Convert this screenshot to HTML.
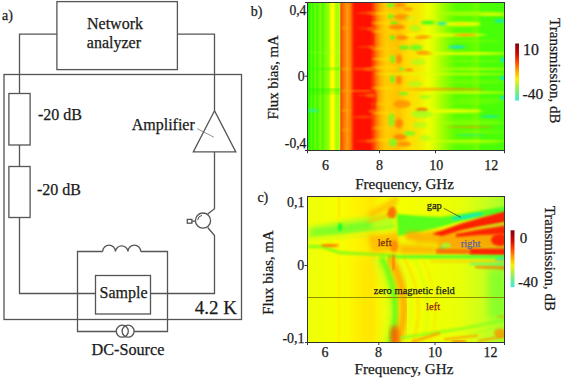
<!DOCTYPE html>
<html><head><meta charset="utf-8">
<style>
html,body{margin:0;padding:0;background:#fff;width:562px;height:379px;overflow:hidden}
svg{display:block}
text{font-family:"Liberation Serif",serif;fill:#1a1a1a;stroke:#1a1a1a;stroke-width:0.25px}
</style></head>
<body>
<svg width="562" height="379" viewBox="0 0 562 379">
<defs>
<linearGradient id="gb" x1="308" x2="504.5" y1="0" y2="0" gradientUnits="userSpaceOnUse"><stop offset="0.0000" stop-color="#20f800"/><stop offset="0.0102" stop-color="#30fa00"/><stop offset="0.0178" stop-color="#60ff00"/><stop offset="0.0254" stop-color="#30fa00"/><stop offset="0.0356" stop-color="#70ff00"/><stop offset="0.0458" stop-color="#40fa00"/><stop offset="0.0636" stop-color="#80ff00"/><stop offset="0.0738" stop-color="#50fc00"/><stop offset="0.0891" stop-color="#80ff00"/><stop offset="0.1043" stop-color="#90ff00"/><stop offset="0.1120" stop-color="#d0ff00"/><stop offset="0.1170" stop-color="#f8ff00"/><stop offset="0.1323" stop-color="#f8ff00"/><stop offset="0.1389" stop-color="#c0ff00"/><stop offset="0.1476" stop-color="#a0ff10"/><stop offset="0.1628" stop-color="#b8ff10"/><stop offset="0.1669" stop-color="#ff4000"/><stop offset="0.1730" stop-color="#ff5800"/><stop offset="0.1858" stop-color="#ff8000"/><stop offset="0.2010" stop-color="#ff9a10"/><stop offset="0.2163" stop-color="#ff7800"/><stop offset="0.2290" stop-color="#ff3000"/><stop offset="0.2392" stop-color="#ff1000"/><stop offset="0.3155" stop-color="#ff1000"/><stop offset="0.3308" stop-color="#ff3800"/><stop offset="0.3511" stop-color="#ff8000"/><stop offset="0.3715" stop-color="#ffb000"/><stop offset="0.3969" stop-color="#ffcc00"/><stop offset="0.4275" stop-color="#ffc800"/><stop offset="0.4580" stop-color="#ffc000"/><stop offset="0.4885" stop-color="#ffd400"/><stop offset="0.5191" stop-color="#ffe000"/><stop offset="0.5496" stop-color="#f8e400"/><stop offset="0.5802" stop-color="#f4f000"/><stop offset="0.6107" stop-color="#f0ff00"/><stop offset="0.6412" stop-color="#d8ff00"/><stop offset="0.6718" stop-color="#b0ff00"/><stop offset="0.7125" stop-color="#80ff00"/><stop offset="0.7532" stop-color="#58ff00"/><stop offset="0.8244" stop-color="#58ff00"/><stop offset="0.8601" stop-color="#70ff00"/><stop offset="0.8804" stop-color="#48ff08"/><stop offset="1.0000" stop-color="#48ff08"/></linearGradient><linearGradient id="gc" x1="308" x2="504.5" y1="0" y2="0" gradientUnits="userSpaceOnUse"><stop offset="0.0000" stop-color="#eeff08"/><stop offset="0.1374" stop-color="#f6ff00"/><stop offset="0.1578" stop-color="#fff600"/><stop offset="0.1679" stop-color="#f6ff00"/><stop offset="0.2392" stop-color="#fff400"/><stop offset="0.3257" stop-color="#ffe800"/><stop offset="0.3919" stop-color="#f8ff00"/><stop offset="0.6209" stop-color="#f0ff00"/><stop offset="0.7735" stop-color="#e8ff08"/><stop offset="0.8753" stop-color="#d0ff18"/><stop offset="1.0000" stop-color="#a8ff28"/></linearGradient><linearGradient id="gcbar" x1="0" x2="0" y1="0" y2="1"><stop offset="0" stop-color="#800010"/><stop offset="0.18" stop-color="#d00800"/><stop offset="0.32" stop-color="#ff4000"/><stop offset="0.47" stop-color="#ffa000"/><stop offset="0.62" stop-color="#f8f000"/><stop offset="0.74" stop-color="#b0f040"/><stop offset="0.86" stop-color="#70f080"/><stop offset="1" stop-color="#40e8e0"/></linearGradient>
<clipPath id="cb"><rect x="308" y="3" width="196.5" height="147.5"/></clipPath>
<clipPath id="cc"><rect x="308" y="197" width="196.5" height="145.5"/></clipPath>
<filter id="bl1" x="-20%" y="-50%" width="140%" height="200%"><feGaussianBlur stdDeviation="1"/></filter>
<filter id="bl2" x="-20%" y="-50%" width="140%" height="200%"><feGaussianBlur stdDeviation="2"/></filter>
<filter id="bl3" x="-20%" y="-50%" width="140%" height="200%"><feGaussianBlur stdDeviation="3"/></filter>
</defs>

<!-- ===== circuit (a) ===== -->
<g fill="none" stroke="#555" stroke-width="1.3">
<rect x="56.9" y="1.6" width="120.5" height="68"/>
<polyline points="56.9,34.1 19.5,34.1 19.5,93.5"/>
<polyline points="177.4,34.1 214.5,34.1 214.5,110.7"/>
<rect x="4" y="74.5" width="237.5" height="245"/>
<rect x="8.9" y="93.5" width="21.2" height="51.5"/>
<line x1="19.5" y1="145" x2="19.5" y2="166.5"/>
<rect x="8.9" y="166.5" width="21.2" height="51"/>
<polyline points="19.5,217.5 19.5,293.5 95.5,293.5"/>
<polygon points="214.5,110.7 193.3,151.9 235.8,151.9"/>
<polyline points="214.5,151.9 214.5,208.7 207.7,214"/>
<polyline points="207.7,227.5 214.5,235.6 214.5,293.5 150.5,293.5"/>
<circle cx="203" cy="220.6" r="7.6"/>
<rect x="187.3" y="219.4" width="4.6" height="3.8"/>
<line x1="191.9" y1="221.2" x2="195.5" y2="221.2"/>
<polyline points="102.7,251.5 77.5,251.5 77.5,331.5 116.3,331.5"/>
<polyline points="140.7,251.5 167.5,251.5 167.5,331.5 134,331.5"/>
<path d="M102.7,251.5 A6.33,6.33 0 0 1 115.4,251.5 A6.33,6.33 0 0 1 128,251.5 A6.33,6.33 0 0 1 140.7,251.5"/>
<rect x="95.5" y="275.5" width="55" height="38.5"/>
<circle cx="122.3" cy="331.2" r="6"/>
<circle cx="128.1" cy="331.2" r="6"/>
</g>
<line x1="197" y1="128.6" x2="213.8" y2="137.1" stroke="#777" stroke-width="0.8"/>
<path d="M197.6,220.1 A5.3,5.3 0 0 1 202,215.4" fill="none" stroke="#3c3c3c" stroke-width="0.9"/>

<text x="2" y="20.3" font-size="14">a)</text>
<text x="87" y="28.9" font-size="16">Network</text>
<text x="86.8" y="48.1" font-size="16">analyzer</text>
<text x="38" y="120.1" font-size="16">-20 dB</text>
<text x="37" y="194.6" font-size="16">-20 dB</text>
<text x="131.7" y="130.3" font-size="16">Amplifier</text>
<text x="99.5" y="298" font-size="16">Sample</text>
<text x="91.5" y="355.2" font-size="16.2">DC-Source</text>
<text x="194.8" y="313.6" font-size="19">4.2 K</text>

<!-- ===== plot b ===== -->
<rect x="308" y="3" width="196.5" height="147.5" fill="url(#gb)"/>
<g clip-path="url(#cb)">
<ellipse cx="385" cy="13.5" rx="14" ry="1.5" fill="#ffe000" opacity="0.75" filter="url(#bl1)"/>
<ellipse cx="385" cy="23" rx="14" ry="1.2" fill="#ffe000" opacity="0.75" filter="url(#bl1)"/>
<ellipse cx="385" cy="31.5" rx="14" ry="1.3" fill="#ffd000" opacity="0.7" filter="url(#bl1)"/>
<ellipse cx="385" cy="48.5" rx="14" ry="1.3" fill="#ffd000" opacity="0.7" filter="url(#bl1)"/>
<ellipse cx="385" cy="59" rx="14" ry="1.2" fill="#ffe000" opacity="0.7" filter="url(#bl1)"/>
<ellipse cx="385" cy="67.5" rx="14" ry="1.3" fill="#ffe000" opacity="0.7" filter="url(#bl1)"/>
<ellipse cx="385" cy="88" rx="14" ry="1.2" fill="#ffe000" opacity="0.7" filter="url(#bl1)"/>
<ellipse cx="385" cy="104" rx="14" ry="1.2" fill="#ffd000" opacity="0.7" filter="url(#bl1)"/>
<ellipse cx="385" cy="113" rx="14" ry="1.2" fill="#ffe000" opacity="0.7" filter="url(#bl1)"/>
<ellipse cx="385" cy="128" rx="14" ry="1.2" fill="#ffd000" opacity="0.7" filter="url(#bl1)"/>
<ellipse cx="385" cy="140" rx="14" ry="1.2" fill="#ffe000" opacity="0.7" filter="url(#bl1)"/>
<ellipse cx="391" cy="5" rx="4" ry="2.5" fill="#60ff20" opacity="0.8" filter="url(#bl1)"/>
<ellipse cx="400" cy="5" rx="6" ry="2.5" fill="#ff8c00" opacity="0.8" filter="url(#bl1)"/>
<ellipse cx="408" cy="9" rx="5" ry="2" fill="#ff9800" opacity="0.8" filter="url(#bl1)"/>
<ellipse cx="391" cy="16.5" rx="3" ry="2.5" fill="#60ff20" opacity="0.8" filter="url(#bl1)"/>
<ellipse cx="402" cy="17" rx="8" ry="3" fill="#ff8c00" opacity="0.8" filter="url(#bl1)"/>
<ellipse cx="394" cy="23" rx="4" ry="1.2" fill="#30ff20" opacity="0.8" filter="url(#bl1)"/>
<ellipse cx="428" cy="22.5" rx="7" ry="2" fill="#30ff20" opacity="0.9" filter="url(#bl1)"/>
<ellipse cx="397" cy="27" rx="8" ry="2.5" fill="#ff8000" opacity="0.85" filter="url(#bl1)"/>
<ellipse cx="392.5" cy="37.5" rx="2.5" ry="2.5" fill="#50ff20" opacity="0.8" filter="url(#bl1)"/>
<ellipse cx="402" cy="37.5" rx="6" ry="2.5" fill="#ff8000" opacity="0.85" filter="url(#bl1)"/>
<ellipse cx="421.5" cy="37" rx="7" ry="2" fill="#ff9800" opacity="0.8" filter="url(#bl1)"/>
<ellipse cx="404" cy="47.5" rx="5" ry="2" fill="#40ff20" opacity="0.8" filter="url(#bl1)"/>
<ellipse cx="416" cy="47.5" rx="7" ry="3" fill="#60ff20" opacity="0.8" filter="url(#bl1)"/>
<ellipse cx="423" cy="52.5" rx="7" ry="1.5" fill="#ff8000" opacity="0.8" filter="url(#bl1)"/>
<ellipse cx="392.5" cy="59" rx="2.5" ry="4" fill="#60ff20" opacity="0.8" filter="url(#bl1)"/>
<ellipse cx="399" cy="59" rx="3" ry="4.5" fill="#ff8000" opacity="0.8" filter="url(#bl1)"/>
<ellipse cx="392.5" cy="79" rx="2.5" ry="4" fill="#60ff20" opacity="0.8" filter="url(#bl1)"/>
<ellipse cx="399" cy="80" rx="3" ry="4.5" fill="#ff8000" opacity="0.8" filter="url(#bl1)"/>
<ellipse cx="401.5" cy="69" rx="3" ry="1.5" fill="#60ff20" opacity="0.8" filter="url(#bl1)"/>
<ellipse cx="409" cy="70" rx="4" ry="1.5" fill="#ff8000" opacity="0.8" filter="url(#bl1)"/>
<ellipse cx="403.5" cy="93.5" rx="5" ry="1.5" fill="#60ff20" opacity="0.8" filter="url(#bl1)"/>
<ellipse cx="415" cy="28" rx="6" ry="3" fill="#a0ff20" opacity="0.7" filter="url(#bl1)"/>
<ellipse cx="418" cy="62" rx="8" ry="3" fill="#a0ff20" opacity="0.6" filter="url(#bl1)"/>
<ellipse cx="415" cy="84" rx="8" ry="3" fill="#a0ff20" opacity="0.6" filter="url(#bl1)"/>
<ellipse cx="425" cy="97" rx="6" ry="2" fill="#80ff20" opacity="0.6" filter="url(#bl1)"/>
<ellipse cx="420" cy="125" rx="8" ry="3" fill="#a0ff20" opacity="0.6" filter="url(#bl1)"/>
<ellipse cx="425" cy="138" rx="6" ry="3" fill="#a0ff20" opacity="0.6" filter="url(#bl1)"/>
<ellipse cx="410" cy="18" rx="5" ry="2" fill="#c0ff20" opacity="0.6" filter="url(#bl1)"/>
<ellipse cx="402" cy="104" rx="9" ry="4" fill="#ff9000" opacity="0.8" filter="url(#bl1)"/>
<ellipse cx="422" cy="110" rx="6" ry="2" fill="#ff5000" opacity="0.9" filter="url(#bl1)"/>
<ellipse cx="422" cy="114" rx="11" ry="4" fill="#a0ff20" opacity="0.8" filter="url(#bl1)"/>
<ellipse cx="391.5" cy="120" rx="3" ry="7" fill="#70ff20" opacity="0.8" filter="url(#bl1)"/>
<ellipse cx="399" cy="123.5" rx="4" ry="5" fill="#ff8000" opacity="0.85" filter="url(#bl1)"/>
<ellipse cx="400" cy="137" rx="7" ry="3" fill="#ff8000" opacity="0.85" filter="url(#bl1)"/>
<ellipse cx="409.5" cy="133.5" rx="6" ry="2.5" fill="#70ff20" opacity="0.8" filter="url(#bl1)"/>
<ellipse cx="393" cy="142.5" rx="4" ry="4" fill="#70ff20" opacity="0.8" filter="url(#bl1)"/>
<ellipse cx="404" cy="144" rx="7" ry="2.5" fill="#ff8800" opacity="0.85" filter="url(#bl1)"/>
<ellipse cx="371" cy="13" rx="4" ry="1.5" fill="#ff7000" opacity="0.8" filter="url(#bl1)"/>
<ellipse cx="369" cy="69" rx="5" ry="1.5" fill="#ff7000" opacity="0.8" filter="url(#bl1)"/>
<ellipse cx="372" cy="40" rx="2" ry="8" fill="#ff1800" opacity="0.8" filter="url(#bl1)"/>
<ellipse cx="374" cy="100" rx="2.5" ry="10" fill="#ff1800" opacity="0.7" filter="url(#bl1)"/>
<ellipse cx="366" cy="13" rx="10" ry="1.2" fill="#ff6000" opacity="0.6" filter="url(#bl1)"/>
<ellipse cx="366" cy="28.5" rx="9" ry="1.1" fill="#ff6000" opacity="0.5" filter="url(#bl1)"/>
<ellipse cx="366" cy="47" rx="9" ry="1.1" fill="#ff6000" opacity="0.5" filter="url(#bl1)"/>
<ellipse cx="364" cy="69" rx="12" ry="1.3" fill="#ff7000" opacity="0.6" filter="url(#bl1)"/>
<ellipse cx="366" cy="95" rx="10" ry="1.2" fill="#ff6000" opacity="0.5" filter="url(#bl1)"/>
<ellipse cx="364" cy="117" rx="12" ry="1.2" fill="#ff7000" opacity="0.6" filter="url(#bl1)"/>
<ellipse cx="366" cy="141" rx="10" ry="1.2" fill="#ff6000" opacity="0.5" filter="url(#bl1)"/>
<ellipse cx="346" cy="69" rx="5" ry="1.2" fill="#ffb000" opacity="0.6" filter="url(#bl1)"/>
<ellipse cx="346" cy="110.5" rx="5" ry="1.2" fill="#ffb000" opacity="0.6" filter="url(#bl1)"/>
<ellipse cx="346" cy="28" rx="5" ry="1.2" fill="#ffb000" opacity="0.5" filter="url(#bl1)"/>
<ellipse cx="346" cy="130" rx="5" ry="1.2" fill="#ffb000" opacity="0.5" filter="url(#bl1)"/>
<rect x="308" y="68" width="33" height="1.5" fill="#20ff00" opacity="0.7" filter="url(#bl1)"/>
<rect x="308" y="89" width="33" height="1.5" fill="#10f000" opacity="0.8" filter="url(#bl1)"/>
<rect x="308" y="92.5" width="33" height="1.2" fill="#10f000" opacity="0.6" filter="url(#bl1)"/>
<rect x="341" y="90" width="30" height="2" fill="#ffb000" opacity="0.5" filter="url(#bl1)"/>
<ellipse cx="313" cy="110.5" rx="6" ry="1.3" fill="#20f0c0" opacity="0.9" filter="url(#bl1)"/>
<rect x="308" y="52" width="33" height="1" fill="#b0ff40" opacity="0.4" filter="url(#bl1)"/>
<ellipse cx="371" cy="95.5" rx="5" ry="1.5" fill="#ff7000" opacity="0.8" filter="url(#bl1)"/>
<ellipse cx="372" cy="111" rx="4" ry="1.5" fill="#ff7000" opacity="0.7" filter="url(#bl1)"/>
<ellipse cx="371" cy="141" rx="5" ry="1.5" fill="#ff7000" opacity="0.8" filter="url(#bl1)"/>
<ellipse cx="371" cy="29" rx="4" ry="1.5" fill="#ff7000" opacity="0.7" filter="url(#bl1)"/>
<ellipse cx="372" cy="47" rx="4" ry="1.5" fill="#ff7000" opacity="0.7" filter="url(#bl1)"/>
<ellipse cx="475" cy="14.3" rx="35" ry="1.3" fill="#b8ff00" opacity="0.9" filter="url(#bl1)"/>
<ellipse cx="492" cy="14.3" rx="14" ry="1.2" fill="#f4ff00" opacity="0.8" filter="url(#bl1)"/>
<ellipse cx="462" cy="24" rx="19" ry="2.3" fill="#f4ff00" opacity="0.9" filter="url(#bl1)"/>
<ellipse cx="462" cy="24" rx="8" ry="1" fill="#ffd000" opacity="0.6" filter="url(#bl1)"/>
<ellipse cx="442" cy="23.5" rx="5" ry="1.3" fill="#00e8e0" opacity="0.9" filter="url(#bl1)"/>
<ellipse cx="500" cy="21" rx="6" ry="1.5" fill="#00e8e0" opacity="0.9" filter="url(#bl1)"/>
<ellipse cx="445" cy="35" rx="42" ry="1.6" fill="#f4ff00" opacity="0.9" filter="url(#bl1)"/>
<ellipse cx="465" cy="35" rx="12" ry="1.2" fill="#ff9000" opacity="0.8" filter="url(#bl1)"/>
<ellipse cx="424" cy="36.5" rx="8" ry="1.2" fill="#ff9000" opacity="0.8" filter="url(#bl1)"/>
<ellipse cx="470" cy="41" rx="30" ry="1" fill="#90ff00" opacity="0.6" filter="url(#bl1)"/>
<ellipse cx="457" cy="47" rx="9" ry="1.4" fill="#10d8f0" opacity="0.9" filter="url(#bl1)"/>
<ellipse cx="465" cy="53.5" rx="45" ry="1.5" fill="#f4ff00" opacity="0.85" filter="url(#bl1)"/>
<ellipse cx="425" cy="53.5" rx="8" ry="1.2" fill="#ff9000" opacity="0.8" filter="url(#bl1)"/>
<ellipse cx="503" cy="60" rx="3" ry="2" fill="#00e8e0" opacity="0.9" filter="url(#bl1)"/>
<ellipse cx="470" cy="61" rx="35" ry="0.9" fill="#90ff00" opacity="0.6" filter="url(#bl1)"/>
<ellipse cx="470" cy="69" rx="40" ry="1.2" fill="#c8ff00" opacity="0.8" filter="url(#bl1)"/>
<ellipse cx="503" cy="78" rx="3" ry="2" fill="#00e8e0" opacity="0.9" filter="url(#bl1)"/>
<ellipse cx="445" cy="89.3" rx="40" ry="1.3" fill="#ff9000" opacity="0.7" filter="url(#bl1)"/>
<ellipse cx="468" cy="92.5" rx="40" ry="1.2" fill="#f4ff00" opacity="0.8" filter="url(#bl1)"/>
<ellipse cx="503" cy="98" rx="3" ry="2" fill="#00e8e0" opacity="0.8" filter="url(#bl1)"/>
<ellipse cx="455" cy="111" rx="28" ry="2" fill="#f4ff00" opacity="0.9" filter="url(#bl1)"/>
<ellipse cx="490" cy="116.5" rx="10" ry="1.2" fill="#00e8e0" opacity="0.7" filter="url(#bl1)"/>
<ellipse cx="470" cy="127" rx="25" ry="0.9" fill="#ff9000" opacity="0.7" filter="url(#bl1)"/>
<ellipse cx="470" cy="135" rx="15" ry="1.2" fill="#00e8e0" opacity="0.4" filter="url(#bl1)"/>
<ellipse cx="470" cy="103" rx="30" ry="1" fill="#90ff00" opacity="0.5" filter="url(#bl1)"/>
<ellipse cx="470" cy="120" rx="30" ry="1" fill="#90ff00" opacity="0.5" filter="url(#bl1)"/>
<ellipse cx="470" cy="143" rx="30" ry="1.2" fill="#b0ff00" opacity="0.6" filter="url(#bl1)"/>
<ellipse cx="440" cy="74" rx="66" ry="1.1" fill="#e0ff00" opacity="0.8" filter="url(#bl1)"/>
<ellipse cx="470" cy="122.8" rx="35" ry="1" fill="#c0ff00" opacity="0.7" filter="url(#bl1)"/>
<ellipse cx="470" cy="141" rx="36" ry="1" fill="#f4ff00" opacity="0.7" filter="url(#bl1)"/>
<ellipse cx="470" cy="12.3" rx="36" ry="0.9" fill="#c0ff00" opacity="0.7" filter="url(#bl1)"/>
<ellipse cx="470" cy="82" rx="36" ry="1.5" fill="#90ff00" opacity="0.5" filter="url(#bl1)"/>
<ellipse cx="480" cy="100" rx="26" ry="1.5" fill="#90ff00" opacity="0.5" filter="url(#bl1)"/>
<ellipse cx="480" cy="132" rx="26" ry="1.5" fill="#90ff00" opacity="0.5" filter="url(#bl1)"/>
</g>
<g fill="none" stroke="#333" stroke-width="1">
<rect x="307.5" y="2.5" width="197" height="148"/>
<line x1="305" y1="2.5" x2="307.5" y2="2.5"/>
<line x1="304.7" y1="76.2" x2="307.5" y2="76.2"/>
<line x1="305" y1="150.5" x2="307.5" y2="150.5"/>
<line x1="307.5" y1="150.5" x2="307.5" y2="153.2"/>
<line x1="379.5" y1="150.5" x2="379.5" y2="153.2"/>
<line x1="435.5" y1="150.5" x2="435.5" y2="153.2"/>
<line x1="504.5" y1="150.5" x2="504.5" y2="153.2"/>
</g>
<rect x="515.2" y="43.5" width="3.8" height="57.1" fill="url(#gcbar)"/>
<text x="250.8" y="16.1" font-size="14">b)</text>
<text x="306.4" y="15.4" font-size="13.6" text-anchor="end">0,4</text>
<text x="304.6" y="80.6" font-size="13.8" text-anchor="end">0</text>
<text x="306.4" y="147.7" font-size="13.6" text-anchor="end">-0,4</text>
<text x="325.5" y="169.8" font-size="14" text-anchor="middle">6</text>
<text x="379.6" y="169.8" font-size="14" text-anchor="middle">8</text>
<text x="436.3" y="169.8" font-size="14" text-anchor="middle">10</text>
<text x="491.2" y="169.8" font-size="14" text-anchor="middle">12</text>
<text x="355.2" y="188.8" font-size="15.1">Frequency, GHz</text>
<text transform="translate(277.8,119.5) rotate(-90)" font-size="14.8">Flux bias, mA</text>
<text x="523" y="55.3" font-size="15.8">10</text>
<text x="522.6" y="99.3" font-size="15.5">-40</text>
<text transform="translate(550.3,18.1) rotate(90)" font-size="15">Transmission, dB</text>

<!-- ===== plot c ===== -->
<rect x="308" y="197" width="196.5" height="145.5" fill="url(#gc)"/>
<g clip-path="url(#cc)">
<path d="M308,227 L340,221 L366,217 L395,214 L395,230 L366,232 L340,235 L308,237 Z" fill="#a8ff20" opacity="0.8" filter="url(#bl2)"/>
<path d="M312,230 L340,226 L372,221 L372,228 L340,232 L312,234 Z" fill="#40ff30" opacity="0.6" filter="url(#bl2)"/>
<ellipse cx="340" cy="227" rx="2" ry="4" fill="#00ff30" opacity="0.9" filter="url(#bl1)"/>
<path d="M308,244.5 L322,245 L340,251 L366,252.5 L395,254 L395,257 L366,255.5 L340,254.5 L322,248.5 L308,248 Z" fill="#40ff20" opacity="0.55" filter="url(#bl1)"/>
<path d="M308,236 L340,233 L372,229 L395,226" fill="none" stroke="#50ff30" stroke-width="1.5" opacity="0.5" filter="url(#bl1)"/>
<path d="M308,240 L340,238 L372,236" fill="none" stroke="#90ff30" stroke-width="1.5" opacity="0.4" filter="url(#bl1)"/>
<ellipse cx="330" cy="245.5" rx="9" ry="1.6" fill="#ff7000" opacity="0.9" filter="url(#bl1)"/>
<rect x="338.5" y="197" width="1.5" height="20" fill="#ffb000" opacity="0.35" filter="url(#bl1)"/>
<rect x="338.5" y="260" width="1.5" height="83" fill="#ffd000" opacity="0.2" filter="url(#bl1)"/>
<rect x="355" y="262" width="16" height="80" fill="#ffd400" opacity="0.2" filter="url(#bl3)"/>
<path d="M366,214 L380,206 L394,197 L399,197 L396,204 L386,211 L372,217 Z" fill="#ffb000" opacity="0.7" filter="url(#bl2)"/>
<path d="M366,221 L380,216 L392,211 L394,215 L382,220 L368,223 Z" fill="#ffc000" opacity="0.6" filter="url(#bl1)"/>
<path d="M389,208 L394,206 L397,212 L395,218 L389,218 L387,214 Z" fill="#ff6800" opacity="0.9" filter="url(#bl1)"/>
<rect x="395" y="197" width="2" height="60" fill="#d0e000" opacity="0.35" filter="url(#bl1)"/>
<path d="M368,236 L398,232 L400,252 L372,252 Z" fill="#ffb400" opacity="0.8" filter="url(#bl2)"/>
<ellipse cx="394" cy="246" rx="4" ry="6" fill="#ff8000" opacity="0.8" filter="url(#bl1)"/>
<path d="M397,214 L420,216 L440,217 L461,214 L490,209 L508,206 L508,212 L480,217 L461,221 L440,227 L420,232 L398,236 Z" fill="#30ff20" opacity="0.8" filter="url(#bl1)"/>
<path d="M452,217.5 L466,215 L482,212.5 L482,215 L466,218.5 L452,220 Z" fill="#00e8e0" opacity="0.85" filter="url(#bl1)"/>
<ellipse cx="412" cy="236" rx="8" ry="5" fill="#ffa000" opacity="0.75" filter="url(#bl2)"/>
<path d="M415,233 L440,230 L440,244 L415,243 Z" fill="#ffa800" opacity="0.8" filter="url(#bl2)"/>
<path d="M438,233 L470,231 L508,228 L508,248 L438,250 Z" fill="#ff9a00" opacity="0.85" filter="url(#bl2)"/>
<path d="M432,234 L450,227.5 L461,223.5 L480,218 L508,210.5 L508,221.5 L480,226.5 L461,230.5 L442,236 Z" fill="#ff1800" opacity="0.95" filter="url(#bl1)"/>
<path d="M466,230.5 L508,222.5 L508,224.5 L466,232 Z" fill="#ffb000" opacity="0.8" filter="url(#bl1)"/>
<path d="M456,234 L480,229.5 L508,225 L508,234 L480,235 L456,237 Z" fill="#ff1800" opacity="0.9" filter="url(#bl1)"/>
<ellipse cx="500" cy="240" rx="9" ry="6" fill="#ff1800" opacity="0.9" filter="url(#bl1)"/>
<ellipse cx="446" cy="246" rx="5" ry="3.5" fill="#a0ff30" opacity="0.8" filter="url(#bl1)"/>
<ellipse cx="442" cy="249" rx="2" ry="2" fill="#30ff90" opacity="0.8" filter="url(#bl1)"/>
<path d="M400,244 L436,246 L436,254 L400,254 Z" fill="#ffa000" opacity="0.7" filter="url(#bl2)"/>
<path d="M436,248.5 L477,249 L508,249 L508,255 L477,254.5 L436,254 Z" fill="#ff6000" opacity="0.85" filter="url(#bl1)"/>
<path d="M470,249 L508,248.5 L508,255 L470,254.5 Z" fill="#ff1800" opacity="0.85" filter="url(#bl1)"/>
<path d="M388,255.5 L508,255 L508,258.5 L388,258.5 Z" fill="#30ff30" opacity="0.8" filter="url(#bl1)"/>
<ellipse cx="501" cy="259.5" rx="6" ry="2" fill="#00e8e0" opacity="0.7" filter="url(#bl1)"/>
<path d="M430,260 L508,259.5 L508,263.5 L430,262.5 Z" fill="#ffc000" opacity="0.5" filter="url(#bl1)"/>
<path d="M470,263 L508,263 L508,265.5 L470,265 Z" fill="#20ffa0" opacity="0.6" filter="url(#bl1)"/>
<path d="M475,266 L508,266 L508,270 L475,268 Z" fill="#ff6000" opacity="0.7" filter="url(#bl1)"/>
<path d="M381,257 Q404,300 390,344" fill="none" stroke="#40ff20" stroke-width="7" opacity="0.8" filter="url(#bl2)"/>
<path d="M376,257 Q398,300 385,344" fill="none" stroke="#c0ff20" stroke-width="4" opacity="0.6" filter="url(#bl2)"/>
<path d="M390,257 Q414,300 397,344" fill="none" stroke="#ffa000" stroke-width="9" opacity="0.8" filter="url(#bl2)"/>
<path d="M404,258 Q428,300 412,344" fill="none" stroke="#ffd000" stroke-width="3" opacity="0.5" filter="url(#bl1)"/>
<path d="M414,258 Q436,300 422,344" fill="none" stroke="#b0ff20" stroke-width="2" opacity="0.4" filter="url(#bl1)"/>
<path d="M422,258 Q444,300 430,344" fill="none" stroke="#ffd800" stroke-width="2" opacity="0.4" filter="url(#bl1)"/>
<ellipse cx="394.5" cy="336" rx="4.5" ry="11" fill="#ff5000" opacity="0.8" filter="url(#bl2)"/>
<path d="M393,255 L394,270" fill="none" stroke="#ff8000" stroke-width="5" opacity="0.7" filter="url(#bl1)"/>
<path d="M398,258 Q420,300 404,344" fill="none" stroke="#d8ff20" stroke-width="4" opacity="0.5" filter="url(#bl2)"/>
<path d="M372,258 Q392,300 380,344" fill="none" stroke="#c0ff30" stroke-width="3" opacity="0.4" filter="url(#bl2)"/>
<path d="M400,338 L460,329 L506,320" fill="none" stroke="#70ff20" stroke-width="3" opacity="0.6" filter="url(#bl1)"/>
<path d="M412,342 L440,333" fill="none" stroke="#ff9000" stroke-width="2.5" opacity="0.8" filter="url(#bl1)"/>
<path d="M444,339.5 L478,335.5" fill="none" stroke="#ff9000" stroke-width="2" opacity="0.8" filter="url(#bl1)"/>
<path d="M452,341.5 L466,340.5" fill="none" stroke="#ff2000" stroke-width="1.5" opacity="0.8" filter="url(#bl1)"/>
<path d="M478,341 L506,336" fill="none" stroke="#ff8000" stroke-width="2" opacity="0.7" filter="url(#bl1)"/>
<ellipse cx="500" cy="333" rx="6" ry="5" fill="#ff9000" opacity="0.75" filter="url(#bl1)"/>
<ellipse cx="502" cy="316.5" rx="5" ry="1.2" fill="#ff9000" opacity="0.7" filter="url(#bl1)"/>
<path d="M470,333 L506,327" fill="none" stroke="#a0ff20" stroke-width="2" opacity="0.5" filter="url(#bl1)"/>
<rect x="488" y="270" width="17" height="48" fill="#60ff30" opacity="0.5" filter="url(#bl3)"/>
</g>
<line x1="308" y1="297.5" x2="504.5" y2="297.5" stroke="#8c9000" stroke-width="1.2"/>
<g fill="none" stroke="#333" stroke-width="1">
<rect x="307.5" y="196.5" width="197" height="146"/>
<line x1="305" y1="342.5" x2="307.5" y2="342.5"/>
<line x1="304.5" y1="265.5" x2="307.5" y2="265.5"/>
<line x1="307.5" y1="342.5" x2="307.5" y2="345"/>
<line x1="378.8" y1="342.5" x2="378.8" y2="345"/>
<line x1="435" y1="342.5" x2="435" y2="345"/>
<line x1="504.5" y1="342.5" x2="504.5" y2="345"/>
</g>
<rect x="510.6" y="230.3" width="3.9" height="56.8" fill="url(#gcbar)"/>
<text x="257.4" y="201.9" font-size="14">c)</text>
<text x="304.6" y="207.2" font-size="14" text-anchor="end">0,1</text>
<text x="304.2" y="269.6" font-size="14" text-anchor="end">0</text>
<text x="304.6" y="342.6" font-size="14" text-anchor="end">-0,1</text>
<text x="325.1" y="356.5" font-size="14" text-anchor="middle">6</text>
<text x="378.5" y="356.5" font-size="14" text-anchor="middle">8</text>
<text x="434.9" y="356.5" font-size="14" text-anchor="middle">10</text>
<text x="490.6" y="356.5" font-size="14" text-anchor="middle">12</text>
<text x="354.6" y="374.2" font-size="15.1">Frequency, GHz</text>
<text transform="translate(273.3,314.7) rotate(-90)" font-size="14.8">Flux bias, mA</text>
<text x="519.8" y="242.7" font-size="15">0</text>
<text x="518" y="287" font-size="15">-40</text>
<text transform="translate(544.9,205.7) rotate(90)" font-size="15">Transmission, dB</text>

<text x="426.7" y="208.9" font-size="10.5">gap</text>
<line x1="443.8" y1="208.3" x2="460.9" y2="217.4" stroke="#333" stroke-width="0.7"/>
<text x="377.7" y="245.8" font-size="10.5" style="fill:#7a2a0a;stroke:#7a2a0a">left</text>
<text x="460.7" y="246.6" font-size="10.5" style="fill:#5a62a8;stroke:#5a62a8">right</text>
<text x="373.8" y="294" font-size="10.5">zero magnetic field</text>
<text x="426.1" y="309.7" font-size="10.5" style="fill:#9a1a0a;stroke:#9a1a0a">left</text>
</svg>
</body></html>
